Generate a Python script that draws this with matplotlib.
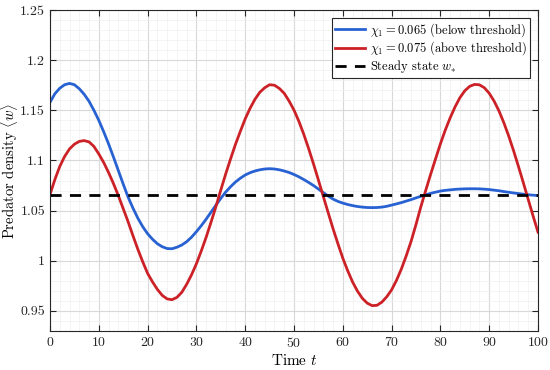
import numpy as np
import matplotlib
matplotlib.use('Agg')
import matplotlib.pyplot as plt
from matplotlib.ticker import MultipleLocator

plt.rcParams['font.family'] = 'serif'
plt.rcParams['font.serif'] = ['cmr10']
plt.rcParams['mathtext.fontset'] = 'cm'
plt.rcParams['axes.formatter.use_mathtext'] = True

# tiempo
t = np.arange(0, 101, 1)

w_below = [1.158, 1.1665, 1.172, 1.1755, 1.1768, 1.1755, 1.1715, 1.166, 1.159, 1.150,
           1.140, 1.1287, 1.1165, 1.1035, 1.090, 1.0765, 1.0635, 1.0525, 1.0425, 1.034,
           1.027, 1.0215, 1.017, 1.014, 1.0122, 1.0120, 1.0135, 1.0157, 1.019, 1.0235,
           1.029, 1.035, 1.0415, 1.0485, 1.0555, 1.0622, 1.0685, 1.0738, 1.0785, 1.0823,
           1.0855, 1.0878, 1.0895, 1.0907, 1.0915, 1.0918, 1.0915, 1.0907, 1.0895, 1.088,
           1.086, 1.0837, 1.081, 1.0781, 1.075, 1.0715, 1.068, 1.0646, 1.0615, 1.0592,
           1.0575, 1.0561, 1.055, 1.0541, 1.0535, 1.0531, 1.053, 1.0531, 1.0535, 1.0543,
           1.0555, 1.0567, 1.058, 1.0595, 1.061, 1.0627, 1.0643, 1.0658, 1.0672, 1.0684,
           1.0695, 1.0702, 1.0707, 1.0712, 1.0715, 1.0717, 1.0718, 1.0718, 1.0717, 1.0714,
           1.071, 1.0704, 1.0698, 1.069, 1.0683, 1.0676, 1.067, 1.0664, 1.0658, 1.0654,
           1.065]

w_above = [1.066, 1.081, 1.094, 1.104, 1.1115, 1.1162, 1.119, 1.1198, 1.1185, 1.114,
           1.1065, 1.098, 1.088, 1.077, 1.065, 1.052, 1.039, 1.025, 1.0115, 0.999,
           0.9875, 0.979, 0.9715, 0.9655, 0.962, 0.9612, 0.9635, 0.9685, 0.9765, 0.986,
           0.997, 1.0098, 1.0235, 1.0385, 1.054, 1.0705, 1.0865, 1.1015, 1.116, 1.129,
           1.1415, 1.152, 1.161, 1.168, 1.1725, 1.1755, 1.175, 1.1718, 1.1669, 1.1592,
           1.1502, 1.139, 1.1261, 1.1118, 1.0965, 1.0805, 1.0642, 1.048, 1.032, 1.017,
           1.0026, 0.9901, 0.9789, 0.9698, 0.9626, 0.9578, 0.9553, 0.9556, 0.9588, 0.9641,
           0.971, 0.9805, 0.9918, 1.005, 1.0195, 1.0362, 1.054, 1.0703, 1.0862, 1.1015,
           1.1166, 1.1303, 1.1425, 1.1534, 1.1626, 1.1695, 1.1739, 1.1758, 1.1754, 1.1725,
           1.167, 1.1592, 1.1494, 1.1376, 1.1243, 1.1096, 1.0939, 1.0777, 1.061, 1.0445,
           1.0285]

w_star = 1.066

yticks = [0.95, 1.0, 1.05, 1.1, 1.15, 1.2, 1.25]
ytick_labels = ['0.95', '1', '1.05', '1.1', '1.15', '1.2', '1.25']

fig = plt.figure(figsize=(5.5, 3.7), dpi=100)
ax = fig.add_axes([0.0909, 0.1054, 0.8873, 0.8676])

ax.plot(t, w_below, color='#2862d2', lw=2.0, label=r'$\chi_1 = 0.065$ (below threshold)')
ax.plot(t, w_above, color='#cc2127', lw=2.0, label=r'$\chi_1 = 0.075$ (above threshold)')
ax.plot([0, 100], [w_star, w_star], color='black', lw=2.0, ls=(0, (4, 3)),
        label=r'Steady state $w_{*}$')

ax.set_xlim(0, 100)
ax.set_ylim(0.93, 1.25)
ax.set_xticks(np.arange(0, 101, 10))
ax.set_yticks(yticks)
ax.set_yticklabels(ytick_labels)
ax.xaxis.set_minor_locator(MultipleLocator(2))
ax.yaxis.set_minor_locator(MultipleLocator(0.01))

ax.grid(which='major', color='#d9d9d9', lw=0.8)
ax.grid(which='minor', color='#f0f0f0', lw=0.5)
ax.set_axisbelow(True)

ax.tick_params(which='both', direction='in', top=True, right=True, labelsize=10,
               colors='#262626')
ax.tick_params(which='major', length=4)
ax.tick_params(which='minor', length=0)
for s in ax.spines.values():
    s.set_color('#262626')
    s.set_linewidth(0.8)

ax.set_xlabel(r'Time $t$', fontsize=11, labelpad=2)
ax.set_ylabel(r'Predator density $\langle w \rangle$', fontsize=10.5)
ax.yaxis.set_label_coords(-0.062, 0.5)

leg = ax.legend(loc='upper right', fontsize=9, fancybox=False, framealpha=1,
                edgecolor='#262626', handlelength=2.4, handletextpad=0.4,
                borderpad=0.25, labelspacing=0.05, borderaxespad=0.65)
leg.get_frame().set_linewidth(0.8)

plt.savefig('out.png', dpi=100)
